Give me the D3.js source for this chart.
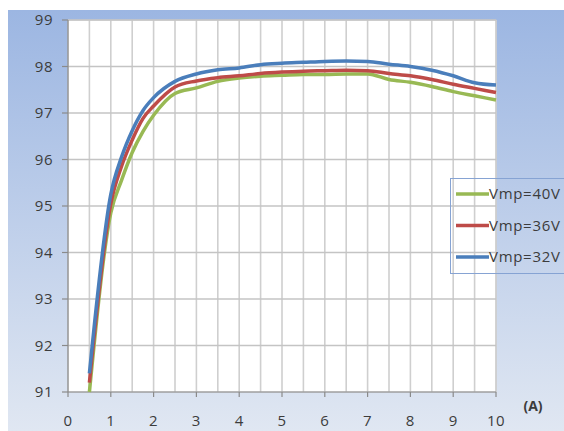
<!DOCTYPE html>
<html><head><meta charset="utf-8">
<script src="https://cdn.jsdelivr.net/npm/d3@7/dist/d3.min.js"></script>
<style>body{margin:0;background:#fff}svg{display:block}</style>
</head><body><svg id="c" width="564" height="431"></svg>
<script>
const xValues = [0.5,1,1.25,1.5,1.75,2,2.5,3,3.5,4,4.5,5,5.5,6,6.5,7,7.5,8,8.5,9,9.5,10];
const v40 = [91.0,94.85,95.55,96.15,96.6,96.95,97.42,97.54,97.68,97.75,97.79,97.81,97.83,97.83,97.84,97.84,97.72,97.66,97.57,97.46,97.37,97.28];
const v36 = [91.2,95.05,95.85,96.42,96.88,97.15,97.56,97.69,97.76,97.8,97.85,97.88,97.9,97.91,97.92,97.91,97.85,97.8,97.72,97.62,97.53,97.44];
const v32 = [91.4,95.25,96.05,96.62,97.05,97.33,97.68,97.84,97.93,97.97,98.04,98.07,98.09,98.11,98.12,98.11,98.05,98.0,97.92,97.8,97.65,97.6];
const seriesNames = ["Vmp=40V","Vmp=36V","Vmp=32V"];
const seriesColors = ["#98b954","#be4b48","#4a7ebb"];
const xTicks = [0,1,2,3,4,5,6,7,8,9,10];
const yTicks = [91,92,93,94,95,96,97,98,99];
const xUnit = "(A)";

const svg = d3.select("#c");
const defs = svg.append("defs");
const g = defs.append("linearGradient").attr("id","bg").attr("x1",0).attr("y1",0).attr("x2",0).attr("y2",1);
g.append("stop").attr("offset","0%").attr("stop-color","#9cb6e2");
g.append("stop").attr("offset","100%").attr("stop-color","#e0e7f2");
svg.append("rect").attr("x",8).attr("y",10).attr("width",556).attr("height",421).attr("fill","url(#bg)");

const L=68,R=496,T=20,B=392;
const x = d3.scaleLinear().domain([0,10]).range([L,R]);
const y = d3.scaleLinear().domain([91,99]).range([B,T]);

svg.append("rect").attr("x",L).attr("y",T).attr("width",R-L).attr("height",B-T).attr("fill","#fff").attr("stroke","#c8c8c8");

const grid = svg.append("g").attr("stroke","#cfcfcf").attr("stroke-width",1.6);
d3.range(0.5,10.01,0.5).forEach(v=>{
  grid.append("line").attr("x1",x(v)).attr("x2",x(v)).attr("y1",T).attr("y2",B);
});
yTicks.slice(1).forEach(v=>{
  grid.append("line").attr("x1",L).attr("x2",R).attr("y1",y(v)).attr("y2",y(v)).attr("stroke","#c4c4c4");
});

const ax = svg.append("g").attr("stroke","#8a8a8a").attr("stroke-width",1.2);
ax.append("line").attr("x1",L).attr("x2",L).attr("y1",T).attr("y2",B);
ax.append("line").attr("x1",L).attr("x2",R).attr("y1",B).attr("y2",B);
yTicks.forEach(v=>ax.append("line").attr("x1",L-6).attr("x2",L).attr("y1",y(v)).attr("y2",y(v)));
xTicks.forEach(v=>ax.append("line").attr("x1",x(v)).attr("x2",x(v)).attr("y1",B).attr("y2",B+5));

const font="'Open Sans', sans-serif";
svg.append("g").selectAll("text").data(yTicks).join("text")
  .attr("x",53).attr("y",d=>y(d)).attr("dy","0.35em").attr("text-anchor","end")
  .attr("font-family",font).attr("font-size",15).attr("letter-spacing",0.5).attr("fill","#3c3c3c").text(d=>d);
svg.append("g").selectAll("text").data(xTicks).join("text")
  .attr("x",d=>x(d)).attr("y",421).attr("dy","0.35em").attr("text-anchor","middle")
  .attr("font-family",font).attr("font-size",15).attr("letter-spacing",0.5).attr("fill","#3c3c3c").text(d=>d);
svg.append("text").attr("x",533).attr("y",406).attr("dy","0.35em").attr("text-anchor","middle")
  .attr("font-family",font).attr("font-size",14).attr("font-weight","bold").attr("fill","#3c3c3c").text(xUnit);

const line = d3.line().x(d=>x(d[0])).y(d=>y(d[1])).curve(d3.curveMonotoneX);
[v40,v36,v32].forEach((vals,i)=>{
  svg.append("path").datum(xValues.map((xv,j)=>[xv,vals[j]]))
    .attr("d",line).attr("fill","none").attr("stroke",seriesColors[i]).attr("stroke-width",3.5)
    .attr("stroke-linejoin","round");
});

svg.append("rect").attr("x",450.5).attr("y",178.5).attr("width",120).attr("height",95)
  .attr("fill","none").attr("stroke","#86a3d3").attr("stroke-width",1);
seriesNames.forEach((n,i)=>{
  const yy = 194 + i*31.5;
  svg.append("line").attr("x1",456).attr("x2",489).attr("y1",yy).attr("y2",yy)
    .attr("stroke",seriesColors[i]).attr("stroke-width",3.5);
  svg.append("text").attr("x",489).attr("y",yy).attr("dy","0.35em")
    .attr("font-family",font).attr("font-size",15).attr("letter-spacing",0.7).attr("fill","#3c3c3c").text(n);
});
</script></body></html>
